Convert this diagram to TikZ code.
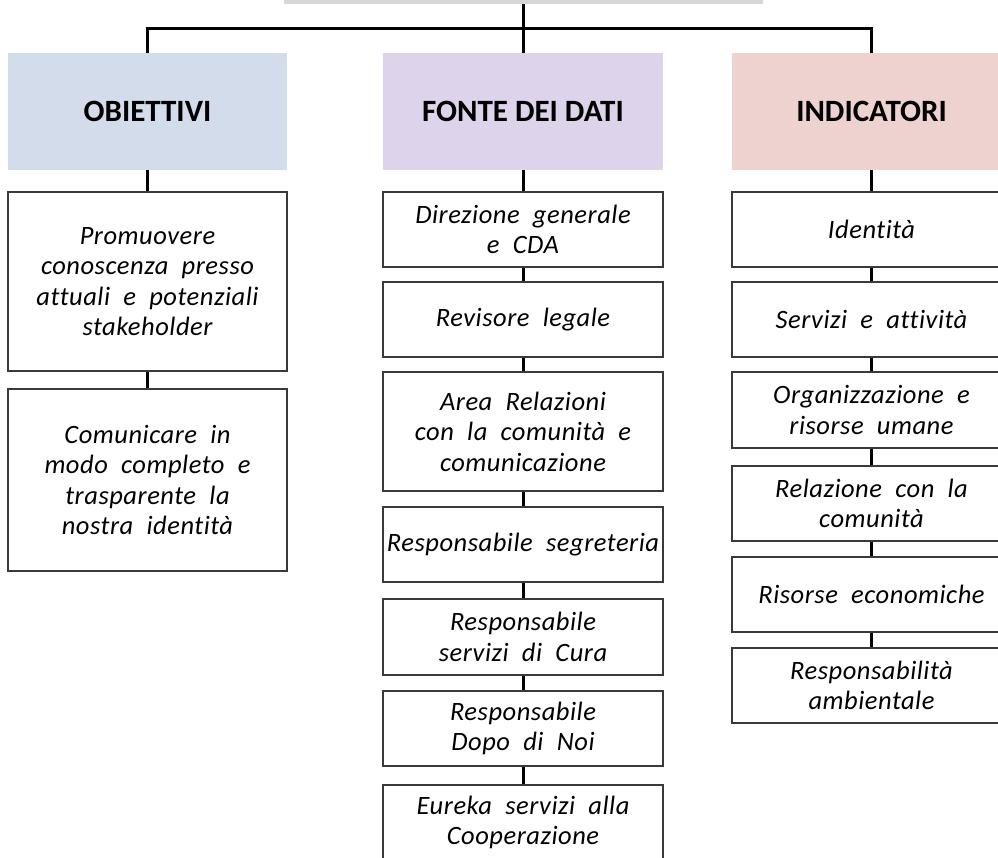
\documentclass[tikz,border=0pt]{standalone}
\usepackage{fontspec}
\setmainfont{Carlito}[Ligatures=NoCommon]
\newfontfamily\cellfamily{Carlito}[Ligatures=NoCommon, LetterSpace=2, RawFeature=-liga]
\definecolor{topgray}{HTML}{D6D6D6}
\definecolor{hblue}{HTML}{D3DCEB}
\definecolor{hpurple}{HTML}{DDD3EB}
\definecolor{hpink}{HTML}{EED2D0}
\definecolor{boxline}{HTML}{3A3A3A}
\newcommand{\cellfont}{\cellfamily\fontsize{26.5}{30.5}\selectfont\itshape\spaceskip=0.5em plus 0.1em\relax}
\newcommand{\headfont}{\fontsize{31}{36}\selectfont\bfseries}
\begin{document}
\begin{tikzpicture}[x=1pt,y=-1pt,
  cell/.style={draw=boxline, line width=1.3pt, fill=white, inner sep=0pt, align=center, font=\cellfont},
  head/.style={draw=none, inner sep=0pt, align=center, font=\headfont, minimum width=279pt, minimum height=117pt},
  conn/.style={draw=black, line width=3pt}]
\useasboundingbox (0,0) rectangle (998,857);
% top box
\fill[topgray] (284,-20) rectangle (763,4);
\coordinate (topS) at (523,4);
\coordinate (j) at (523,28);
% headers
\node[head, fill=hblue] (hO) at (147.5,111.5) {OBIETTIVI};
\node[head, fill=hpurple, minimum width=280pt] (hF) at (523,111.5) {FONTE DEI DATI};
\node[head, fill=hpink] (hI) at (871.5,111.5) {INDICATORI};
% Obiettivi
\node[cell, minimum width=279pt, minimum height=179pt] (o1) at (147.5,281.5) {Promuovere\\conoscenza presso\\attuali e potenziali\\stakeholder};
\node[cell, minimum width=279pt, minimum height=182pt] (o2) at (147.5,480) {Comunicare in\\modo completo e\\trasparente la\\nostra identità};
% Fonte
\node[cell, minimum width=280pt, minimum height=75pt] (f1) at (523,229.5) {Direzione generale\\e CDA};
\node[cell, minimum width=280pt, minimum height=75pt] (f2) at (523,319.5) {Revisore legale};
\node[cell, minimum width=280pt, minimum height=119pt] (f3) at (523,431.5) {Area Relazioni\\con la comunità e\\comunicazione};
\node[cell, minimum width=280pt, minimum height=75pt] (f4) at (523,544.5) {Responsabile segreteria};
\node[cell, minimum width=280pt, minimum height=76pt] (f5) at (523,637) {Responsabile\\servizi di Cura};
\node[cell, minimum width=280pt, minimum height=75pt] (f6) at (523,728.5) {Responsabile\\Dopo di Noi};
\node[cell, minimum width=280pt, minimum height=75pt] (f7) at (523,822.5) {Eureka servizi alla\\Cooperazione};
% Indicatori
\node[cell, minimum width=279pt, minimum height=75pt] (i1) at (871.5,229.5) {Identità};
\node[cell, minimum width=279pt, minimum height=75pt] (i2) at (871.5,319.5) {Servizi e attività};
\node[cell, minimum width=279pt, minimum height=76pt] (i3) at (871.5,410) {Organizzazione e\\risorse umane};
\node[cell, minimum width=279pt, minimum height=75pt] (i4) at (871.5,503.5) {Relazione con la\\comunità};
\node[cell, minimum width=279pt, minimum height=75pt] (i5) at (871.5,594.5) {Risorse economiche};
\node[cell, minimum width=279pt, minimum height=75pt] (i6) at (871.5,685.5) {Responsabilità\\ambientale};
% connectors
\draw[conn] (topS) -- (hF.north);
\draw[conn] (hO.north) |- (j) -| (hI.north);
\draw[conn] (hO.south) -- (o1.north);
\draw[conn] (o1.south) -- (o2.north);
\draw[conn] (hF.south) -- (f1.north);
\draw[conn] (f1.south) -- (f2.north);
\draw[conn] (f2.south) -- (f3.north);
\draw[conn] (f3.south) -- (f4.north);
\draw[conn] (f4.south) -- (f5.north);
\draw[conn] (f5.south) -- (f6.north);
\draw[conn] (f6.south) -- (f7.north);
\draw[conn] (hI.south) -- (i1.north);
\draw[conn] (i1.south) -- (i2.north);
\draw[conn] (i2.south) -- (i3.north);
\draw[conn] (i3.south) -- (i4.north);
\draw[conn] (i4.south) -- (i5.north);
\draw[conn] (i5.south) -- (i6.north);
\end{tikzpicture}
\end{document}
